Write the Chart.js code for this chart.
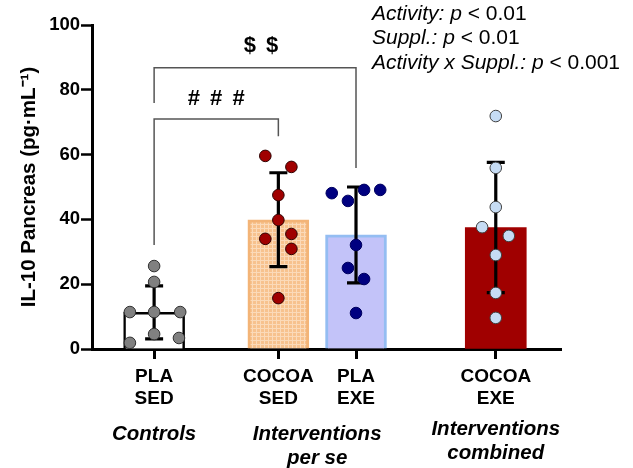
<!DOCTYPE html>
<html>
<head>
<meta charset="utf-8">
<script src="https://cdn.jsdelivr.net/npm/chart.js@4.4.1/dist/chart.umd.min.js"></script>
<style>
  html, body { margin: 0; padding: 0; background: #fff; }
  #wrap { width: 633px; height: 468px; }
</style>
</head>
<body>
<div id="wrap"><canvas id="chart" width="633" height="468"></canvas></div>
<script>
// data
const groupLabels = [['PLA', 'SED'], ['COCOA', 'SED'], ['PLA', 'EXE'], ['COCOA', 'EXE']];
const groupMeans = [11.3, 39.9, 35.2, 37.5];
const groupSD = [8.2, 14.5, 14.8, 20.1];
const plaSed = [25.6, 20.7, 11.4, 11.4, 11.4, 4.6, 1.9, 3.4];
const cocoaSed = [59.6, 56.2, 47.5, 39.8, 34.0, 35.5, 30.9, 15.7];
const plaExe = [48.1, 45.7, 49.1, 49.1, 32.1, 25.0, 21.6, 11.1];
const cocoaExe = [71.9, 55.9, 43.8, 37.6, 34.9, 29.0, 17.3, 9.6];
const yTicks = [0, 20, 40, 60, 80, 100];
const sectionLabels = [['Controls'], ['Interventions', 'per se'], ['Interventions', 'combined']];
const statLines = [
    [['Activity: p', true], [' < 0.01', false]],
    [['Suppl.: p', true], [' < 0.01', false]],
    [['Activity x Suppl.: p', true], [' < 0.001', false]]
];

// layout (x axis units)
const groupX = [1, 3, 4.25, 6.5];
const sectionX = [1, 3.625, 6.5];
const jitter = [
    [0, 0, -0.39, 0, 0.42, 0, -0.39, 0.40],
    [-0.21, 0.21, 0, 0, -0.21, 0.21, 0.21, 0],
    [-0.39, -0.13, 0.13, 0.39, 0, -0.13, 0.13, 0],
    [0, 0, 0, -0.22, 0.21, 0, 0, 0]
];
const brackets = [
    { from: 0, to: 2, y: 86.8, dropL: 75.9, dropR: 55.9, text: '$ $', textX: 2.72, textY: 93.5 },
    { from: 0, to: 1, y: 71, dropL: 32.1, dropR: 65.7, text: '# # #', textX: 2.0, textY: 77.2 }
];

const FONT = "'Liberation Sans', Arial, sans-serif";

function gridPattern() {
    const c = document.createElement('canvas');
    c.width = 4; c.height = 4;
    const g = c.getContext('2d');
    g.fillStyle = '#f7c28e';
    g.fillRect(0, 0, 4, 4);
    g.fillStyle = '#fbdab9';
    g.fillRect(0, 0, 4, 1);
    g.fillRect(0, 0, 1, 4);
    return g.createPattern(c, 'repeat');
}

const dotStyles = [
    { fill: '#808080', stroke: '#303030' },
    { fill: '#a00000', stroke: '#300000' },
    { fill: '#000080', stroke: '#000060' },
    { fill: '#c6dcf4', stroke: '#404040' }
];

const errorBars = {
    id: 'errorBars',
    afterDatasetDraw(chart, args) {
        if (args.index !== 0) return;
        const { ctx, scales: { x, y } } = chart;
        ctx.save();
        ctx.strokeStyle = '#000';
        ctx.lineWidth = 3.2;
        groupMeans.forEach((m, i) => {
            const px = x.getPixelForValue(groupX[i]);
            const top = y.getPixelForValue(m + groupSD[i]);
            const bot = y.getPixelForValue(m - groupSD[i]);
            ctx.beginPath();
            ctx.moveTo(px, top); ctx.lineTo(px, bot);
            ctx.moveTo(px - 9, top); ctx.lineTo(px + 9, top);
            ctx.moveTo(px - 9, bot); ctx.lineTo(px + 9, bot);
            ctx.stroke();
        });
        ctx.restore();
    }
};

const extras = {
    id: 'extras',
    afterDraw(chart) {
        const { ctx, scales: { x, y } } = chart;
        ctx.save();
        // significance brackets
        ctx.strokeStyle = '#555';
        ctx.lineWidth = 1.5;
        brackets.forEach(b => {
            const x1 = x.getPixelForValue(groupX[b.from]);
            const x2 = x.getPixelForValue(groupX[b.to]);
            const yy = y.getPixelForValue(b.y);
            ctx.beginPath();
            ctx.moveTo(x1, y.getPixelForValue(b.dropL));
            ctx.lineTo(x1, yy);
            ctx.lineTo(x2, yy);
            ctx.lineTo(x2, y.getPixelForValue(b.dropR));
            ctx.stroke();
            ctx.fillStyle = '#000';
            ctx.font = 'bold 22px ' + FONT;
            ctx.letterSpacing = '2px';
            ctx.textAlign = 'center';
            ctx.textBaseline = 'middle';
            ctx.fillText(b.text, x.getPixelForValue(b.textX) + 1, y.getPixelForValue(b.textY));
            ctx.letterSpacing = '0px';
        });

        // section labels under the axis
        ctx.font = 'italic bold 20.5px ' + FONT;
        ctx.fillStyle = '#000';
        sectionLabels.forEach((lines, i) => {
            const px = x.getPixelForValue(sectionX[i]);
            const startY = i === 2 ? 429 : 434;
            lines.forEach((t, j) => ctx.fillText(t, px, startY + j * 24));
        });

        // stats text top right
        ctx.textAlign = 'left';
        statLines.forEach((segs, i) => {
            let px = 372;
            const py = 14 + i * 24.5;
            segs.forEach(([t, it]) => {
                ctx.font = (it ? 'italic ' : '') + '21px ' + FONT;
                ctx.fillText(t, px, py);
                px += ctx.measureText(t).width;
            });
        });
        ctx.restore();
    }
};

const scatterSets = [plaSed, cocoaSed, plaExe, cocoaExe].map((vals, g) => ({
    type: 'scatter',
    data: vals.map((v, i) => ({ x: groupX[g] + jitter[g][i], y: v })),
    backgroundColor: dotStyles[g].fill,
    borderColor: dotStyles[g].stroke,
    borderWidth: 1,
    pointRadius: 5.8,
    order: 1
}));

new Chart(document.getElementById('chart'), {
    type: 'bar',
    data: {
        datasets: [{
            type: 'bar',
            data: groupMeans.map((m, i) => ({ x: groupX[i], y: m })),
            backgroundColor: ['#ffffff', gridPattern(), '#c3c3f9', '#a00000'],
            borderColor: ['#000000', '#f3b477', '#94bdf2', '#a00000'],
            borderWidth: [2.5, 3, 3, 0],
            borderSkipped: 'bottom',
            barThickness: 61,
            order: 2
        }, ...scatterSets]
    },
    options: {
        responsive: false,
        devicePixelRatio: 1,
        animation: false,
        events: [],
        layout: { padding: { top: 25, right: 72, bottom: 0, left: 0 } },
        plugins: { legend: { display: false }, tooltip: { enabled: false } },
        scales: {
            x: {
                type: 'linear',
                min: 0,
                max: 7.55,
                offset: false,
                afterFit: s => { s.height = 119; },
                afterBuildTicks: s => { s.ticks = groupX.map(v => ({ value: v })); },
                grid: { display: true, drawOnChartArea: false, offset: false, tickLength: 10, tickWidth: 3, tickColor: '#000' },
                border: { display: true, color: '#000', width: 3 },
                ticks: {
                    autoSkip: false,
                    maxRotation: 0,
                    padding: 7,
                    color: '#000',
                    font: { family: FONT, size: 19, weight: 'bold', lineHeight: 1.15 },
                    callback: (v, i) => groupLabels[i]
                }
            },
            y: {
                min: 0,
                max: 100,
                afterFit: s => { s.width = 92; },
                afterBuildTicks: s => { s.ticks = yTicks.map(v => ({ value: v })); },
                grid: { display: true, drawOnChartArea: false, tickLength: 11, tickWidth: 2.5, tickColor: '#000' },
                border: { display: true, color: '#000', width: 3 },
                ticks: {
                    padding: 1,
                    color: '#000',
                    font: { family: FONT, size: 18.5, weight: 'bold' }
                },
                title: {
                    display: true,
                    text: 'IL-10 Pancreas (pg·mL⁻¹)',
                    color: '#000',
                    padding: { top: 17, bottom: 0 },
                    font: { family: FONT, size: 20.5, weight: 'bold' }
                }
            }
        }
    },
    plugins: [errorBars, extras]
});
</script>
</body>
</html>
